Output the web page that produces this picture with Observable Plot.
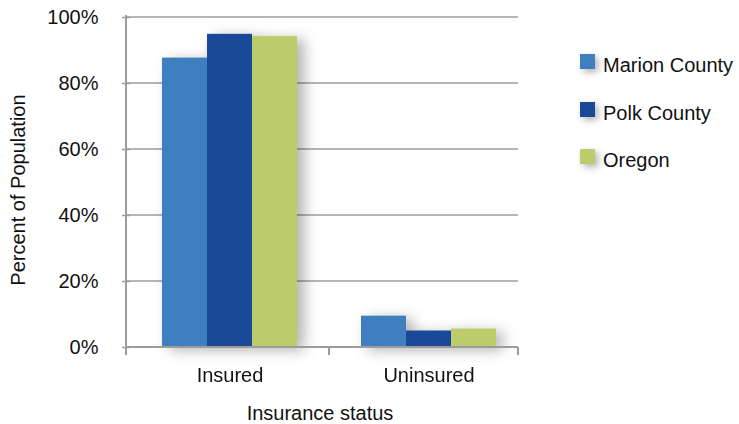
<!DOCTYPE html>
<html>
<head>
<meta charset="utf-8">
<script src="https://cdn.jsdelivr.net/npm/d3@7"></script>
<script src="https://cdn.jsdelivr.net/npm/@observablehq/plot@0.6"></script>
<style>
  html, body { margin: 0; padding: 0; background: #fff; }
  #wrap { position: relative; width: 739px; height: 424px; font-family: "Liberation Sans", Arial, Helvetica, sans-serif; color: #111; }
  #legend { position: absolute; left: 580px; top: 0; }
  .item { position: absolute; left: 0; white-space: nowrap; font-size: 20px; line-height: 20px; }
  .sw { position: absolute; left: 0; top: 0; width: 15px; height: 15px; box-shadow: 3px 3px 7px rgba(0,0,0,0.3); }
  .lab { position: absolute; left: 23px; top: 1px; }
</style>
</head>
<body>
<div id="wrap"></div>
<script>
const statuses = ["Insured", "Uninsured"];
const regions = ["Marion County", "Polk County", "Oregon"];
const insured = [87.7, 94.9, 94.2];
const uninsured = [9.5, 5.0, 5.6];
const yTicks = [0, 20, 40, 60, 80, 100];
const colors = ["#3f7ebf", "#1a4a97", "#bccc6a"];

const rows = [];
regions.forEach((r, i) => {
  rows.push({status: statuses[0], region: r, value: insured[i]});
  rows.push({status: statuses[1], region: r, value: uninsured[i]});
});

const gray = "#9c9c9c";
const W = 739, H = 424, mL = 126, mR = 221, mT = 17, mB = 77;

const plot = Plot.plot({
  width: W,
  height: H,
  marginLeft: mL,
  marginRight: mR,
  marginTop: mT,
  marginBottom: mB,
  style: {fontFamily: "'Liberation Sans', Arial, Helvetica, sans-serif", fontSize: "20px", color: "#111", background: "#fff"},
  fx: {domain: statuses, padding: 0, range: [mL + 4, W - mR + 10], axis: null},
  x: {domain: regions, paddingInner: 0, paddingOuter: 0.7, axis: null},
  y: {domain: [0, 100], axis: null},
  color: {domain: regions, range: colors},
  marks: [
    Plot.barY(rows, {fx: "status", x: "region", y: "value", fill: "region"}),
    Plot.axisY({ticks: yTicks, tickFormat: d => d + "%", tickSize: 8, tickPadding: 24,
      stroke: gray, strokeWidth: 1.5, fill: "#111", label: null}),
    Plot.axisFx({anchor: "bottom", tickSize: 0, tickPadding: 20, fill: "#111", label: null})
  ]
});

// grid, axis lines and boundary ticks using the plot's own scales
const svg = d3.select(plot);
const fx = plot.scale("fx");
const y = plot.scale("y");
const left = mL, right = W - mR;
const bounds = [left, fx.apply(statuses[1]), right];

const grid = svg.insert("g", "g[aria-label=bar]").attr("stroke", gray).attr("stroke-width", 1.5);
yTicks.forEach(t => {
  grid.append("line").attr("x1", left).attr("x2", right).attr("y1", y.apply(t)).attr("y2", y.apply(t));
});

const g = svg.append("g").attr("stroke", gray).attr("stroke-width", 2);
g.append("line").attr("x1", left).attr("x2", left).attr("y1", y.apply(100) - 2).attr("y2", y.apply(0) + 8);
g.append("line").attr("x1", left).attr("x2", right).attr("y1", y.apply(0)).attr("y2", y.apply(0));
bounds.slice(1).forEach(b => {
  g.append("line").attr("x1", b).attr("x2", b).attr("y1", y.apply(0)).attr("y2", y.apply(0) + 8);
});
svg.selectAll("g[aria-label=bar]").style("filter", "drop-shadow(7px 3px 7px rgba(0,0,0,0.3))");

// axis titles
const yMid = (y.apply(0) + y.apply(100)) / 2 + 8;
svg.append("text")
  .attr("transform", `translate(25,${yMid}) rotate(-90)`)
  .attr("text-anchor", "middle")
  .attr("fill", "#111")
  .text("Percent of Population");
svg.append("text")
  .attr("x", (left + right) / 2 - 2)
  .attr("y", H - 4)
  .attr("text-anchor", "middle")
  .attr("fill", "#111")
  .text("Insurance status");

const wrap = document.getElementById("wrap");
wrap.appendChild(plot);
plot.style.position = "absolute";
plot.style.left = "0";
plot.style.top = "0";

const legend = document.createElement("div");
legend.id = "legend";
regions.forEach((r, i) => {
  const item = document.createElement("div");
  item.className = "item";
  item.style.top = (54 + i * 47.5) + "px";
  const sw = document.createElement("div");
  sw.className = "sw";
  sw.style.background = colors[i];
  const lab = document.createElement("span");
  lab.className = "lab";
  lab.textContent = r;
  item.appendChild(sw);
  item.appendChild(lab);
  legend.appendChild(item);
});
wrap.appendChild(legend);
</script>
</body>
</html>
